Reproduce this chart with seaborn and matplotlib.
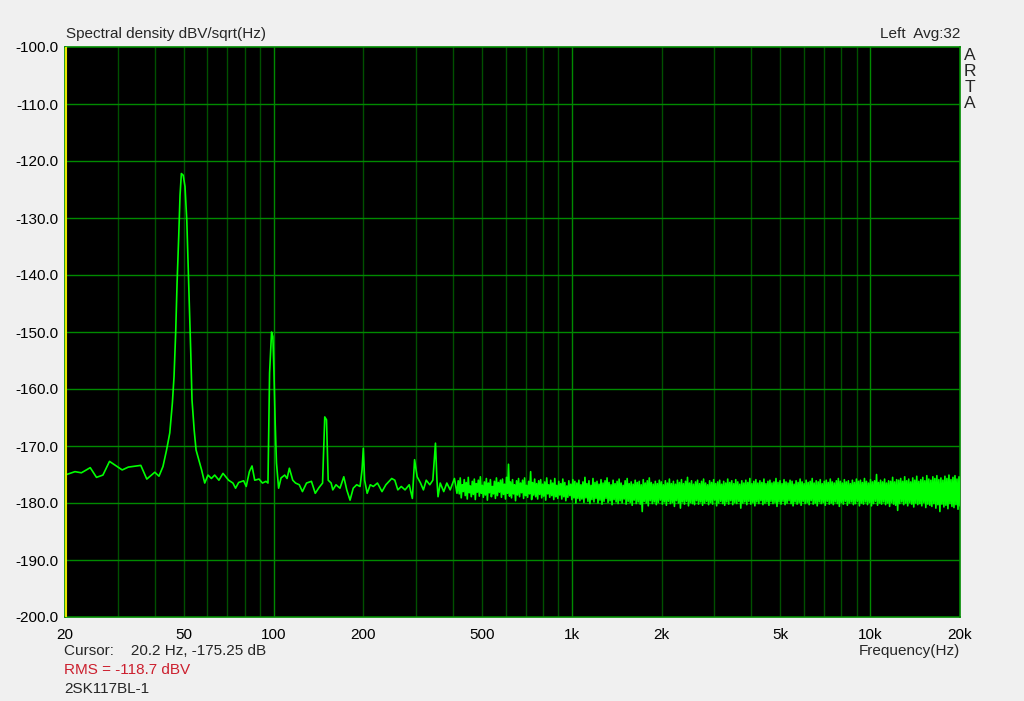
import numpy as np
import matplotlib
matplotlib.use("Agg")
import matplotlib.pyplot as plt
import seaborn as sns

# Espectro, parte baja (Hz, dBV/sqrt(Hz))
freq_baja = [20.0, 21.6, 22.7, 24.3, 25.5, 26.8, 28.2, 31.1, 32.6, 35.9, 37.6, 40.0,
             41.3, 42.6, 43.8, 44.9, 45.8, 46.4, 47.0, 47.5, 48.1, 48.6, 49.1, 49.8,
             50.5, 51.2, 51.8, 52.4, 52.8, 53.3, 54.2, 55.0, 56.0, 57.4, 58.8, 60.3,
             61.9, 63.5, 65.6, 67.7, 70.7, 73.1, 74.6, 76.4, 79.4, 81.0, 83.0, 84.7,
             86.5, 89.4, 91.8, 94.3, 95.8, 97.0, 98.5, 99.5, 100.3, 101.3, 102.3, 104.0,
             106.0, 109.0, 111.0, 113.0, 116.0, 118.5, 122.0, 125.0, 129.0, 134.0, 138.0, 142.0,
             146.0, 148.5, 150.5, 152.5, 156.0, 158.0, 162.0, 167.0, 172.0, 176.0, 180.5, 185.0,
             190.0, 195.0, 198.0, 200.0, 202.0, 206.0, 211.0, 216.0, 223.0, 231.0, 238.0, 249.0,
             255.0, 261.0, 268.0, 276.0, 285.0, 292.0, 297.0, 303.0, 311.0, 318.0, 325.0, 334.0,
             342.0, 349.0, 353.0, 356.0, 362.0, 372.0, 381.0, 391.0, 404.0, 412.0]
db_baja = [-175.1, -174.5, -174.7, -173.8, -175.5, -175.1, -172.7, -174.2, -173.7, -173.4, -175.8, -174.6,
           -175.3, -173.6, -170.7, -167.7, -162.5, -157.8, -150.0, -141.4, -133.3, -126.0, -122.2, -122.5,
           -124.5, -130.4, -139.1, -147.3, -153.7, -161.9, -167.2, -170.7, -172.2, -174.2, -176.5, -175.1,
           -175.7, -175.1, -176.0, -174.8, -176.0, -176.5, -177.4, -176.4, -176.1, -177.1, -174.5, -173.5,
           -176.0, -175.8, -176.5, -176.2, -176.5, -157.2, -150.0, -150.8, -156.7, -166.0, -173.0, -177.4,
           -175.6, -175.1, -175.7, -173.9, -176.0, -176.5, -176.8, -178.0, -176.5, -176.2, -178.3, -177.3,
           -176.5, -164.9, -165.4, -176.0, -176.5, -177.7, -176.8, -177.4, -175.4, -177.7, -179.5, -177.4,
           -176.8, -177.1, -174.2, -170.4, -176.0, -178.3, -176.8, -177.1, -176.5, -178.0, -176.8, -175.7,
           -176.0, -177.7, -177.1, -177.7, -176.8, -179.2, -172.4, -175.4, -176.5, -177.7, -176.0, -176.8,
           -176.0, -169.5, -176.0, -178.9, -176.5, -178.0, -176.5, -177.7, -175.7, -178.3]

# Suelo de ruido 416 Hz - 20 kHz: maximos y minimos alternos
ruido_alto = [
    -176.1, -175.6, -176.8, -175.9, -176.4, -175.5, -177.0, -176.2, -175.8, -176.6,
    -176.0, -175.4, -176.9, -176.3, -175.7, -176.5, -175.9, -177.1, -176.2, -175.6,
    -176.4, -176.0, -175.8, -176.7, -175.5, -173.2, -176.3, -175.9, -176.8, -176.1,
    -175.7, -176.5, -176.0, -175.6, -176.9, -176.2, -174.5, -176.4, -175.8, -176.6,
    -176.1, -175.9, -176.7, -176.3, -175.6, -176.8, -176.0, -176.5, -175.7, -176.9,
    -176.2, -176.6, -175.8, -176.4, -177.0, -176.1, -176.7, -175.9, -176.2, -176.5,
    -176.0, -176.8, -176.3, -175.5, -176.6, -176.1, -176.9, -175.7, -176.4, -176.2,
    -176.7, -175.9, -176.5, -176.1, -175.6, -176.4, -176.8, -176.0, -176.6, -176.2,
    -175.8, -176.5, -176.9, -176.1, -175.7, -176.6, -176.3, -176.7, -176.0, -176.4,
    -176.2, -176.8, -175.9, -176.5, -176.1, -175.6, -176.4, -176.7, -176.2, -176.6,
    -176.0, -176.3, -176.8, -176.1, -176.5, -175.8, -176.6, -176.2, -176.7, -176.0,
    -176.4, -175.9, -176.6, -176.2, -175.5, -176.5, -176.1, -176.7, -176.3, -176.0,
    -176.6, -176.2, -175.8, -176.5, -176.8, -176.1, -176.4, -175.9, -176.6, -176.3,
    -176.0, -176.7, -176.2, -176.5, -175.8, -176.4, -176.1, -176.6, -175.9, -176.3,
    -176.7, -176.1, -176.5, -176.0, -176.4, -175.7, -176.6, -176.2, -175.9, -176.5,
    -176.1, -176.4, -175.8, -176.6, -176.2, -176.0, -176.5, -176.3, -175.7, -176.4,
    -176.1, -176.6, -175.9, -176.3, -176.5, -176.0, -176.2, -176.7, -176.1, -176.4,
    -175.8, -176.3, -176.6, -176.0, -176.4, -176.2, -175.7, -176.5, -176.1, -176.3,
    -175.9, -176.6, -176.2, -176.0, -176.4, -175.8, -176.3, -176.5, -176.1, -175.7,
    -176.2, -176.5, -175.9, -176.3, -176.1, -176.6, -176.0, -176.4, -175.8, -176.2,
    -176.0, -176.4, -175.7, -176.2, -176.5, -175.9, -176.3, -176.1, -175.0, -176.4,
    -176.0, -176.3, -175.8, -176.5, -176.1, -176.2, -175.5, -176.3, -175.9, -176.0,
    -175.7, -176.2, -175.4, -176.1, -175.8, -176.3, -175.6, -176.0, -175.3, -176.2,
    -175.9, -175.5, -176.1, -175.2, -175.8, -176.0, -175.4, -175.7, -175.2, -175.9,
    -175.6, -176.0, -175.3, -175.7, -175.1, -175.9, -175.5, -175.2, -175.8, -175.4]
ruido_bajo = [
    -178.4, -179.1, -178.0, -178.7, -179.3, -178.2, -178.9, -178.5, -179.4, -178.1,
    -178.8, -178.3, -179.0, -178.6, -179.5, -178.2, -178.9, -178.4, -179.2, -178.7,
    -178.1, -179.0, -178.5, -179.3, -178.3, -178.8, -179.1, -178.4, -179.6, -178.6,
    -178.9, -178.2, -179.2, -178.7, -179.0, -178.4, -179.4, -178.6, -178.9, -179.3,
    -178.5, -179.1, -178.8, -179.5, -178.4, -179.0, -178.7, -179.4, -178.9, -179.2,
    -178.6, -179.3, -178.9, -179.6, -179.0, -178.7, -179.4, -179.1, -180.0, -179.2,
    -179.6, -179.3, -179.9, -179.1, -179.7, -180.1, -179.4, -179.8, -179.2, -180.0,
    -179.5, -180.2, -179.7, -179.2, -179.9, -179.6, -180.3, -179.4, -179.8, -180.1,
    -179.6, -180.0, -179.3, -180.2, -179.7, -179.9, -180.4, -179.5, -180.1, -179.8,
    -180.2, -181.5, -179.7, -180.0, -180.5, -179.6, -180.1, -179.8, -180.3, -179.9,
    -179.5, -180.2, -179.8, -180.4, -179.7, -180.1, -179.9, -180.6, -179.6, -180.0,
    -180.9, -179.8, -180.2, -179.7, -180.5, -179.9, -180.1, -180.3, -179.6, -180.2,
    -179.8, -180.4, -180.0, -179.7, -180.3, -179.9, -180.2, -179.5, -180.5, -180.0,
    -179.7, -180.1, -180.4, -179.8, -180.2, -179.6, -180.3, -179.9, -180.1, -179.7,
    -180.9, -180.0, -179.8, -180.3, -179.7, -180.2, -179.9, -180.5, -179.8, -180.1,
    -179.6, -180.3, -180.0, -179.8, -180.4, -179.7, -180.1, -179.9, -180.6, -179.8,
    -180.2, -179.7, -180.3, -180.0, -179.6, -180.1, -180.5, -179.8, -180.2, -179.9,
    -180.4, -179.7, -180.1, -179.9, -180.3, -179.6, -180.2, -180.0, -180.5, -179.8,
    -180.1, -179.9, -180.4, -179.7, -180.2, -180.0, -180.3, -179.8, -180.1, -180.6,
    -179.9, -180.2, -179.7, -180.4, -180.0, -179.8, -180.3, -180.1, -179.7, -180.5,
    -180.0, -180.2, -179.8, -180.3, -179.9, -180.5, -180.1, -179.7, -180.4, -180.0,
    -180.2, -179.8, -180.3, -180.0, -180.6, -179.9, -180.2, -180.4, -181.3, -180.1,
    -179.8, -180.3, -180.0, -180.5, -179.9, -180.2, -180.7, -180.0, -180.3, -180.1,
    -180.5, -179.9, -180.8, -180.2, -180.4, -180.6, -180.1, -180.9, -180.3, -181.5,
    -180.2, -180.7, -180.4, -181.0, -180.1, -180.6, -180.8, -180.3, -181.1, -180.5]

ticks_x = [20, 50, 100, 200, 500, 1000, 2000, 5000, 10000, 20000]
etiquetas_x = ["20", "50", "100", "200", "500", "1k", "2k", "5k", "10k", "20k"]
ticks_y = [-100, -110, -120, -130, -140, -150, -160, -170, -180, -190, -200]

# Frecuencias del suelo de ruido (rejilla de muestreo)
n_ruido = 2 * len(ruido_alto)
freq_ruido = np.geomspace(416, 20000, n_ruido)
db_ruido = np.column_stack([ruido_alto, ruido_bajo]).ravel()

freq = np.concatenate([freq_baja, freq_ruido])
db = np.concatenate([db_baja, db_ruido])

sns.set_style("white")
plt.rcParams['font.family'] = ['Liberation Sans', 'DejaVu Sans']

W, H = 1024, 701
fig = plt.figure(figsize=(W / 100, H / 100), dpi=100, facecolor='#f0f0f0')
ax = fig.add_axes([65 / W, (H - 617) / H, 895 / W, 570 / H])
ax.set_facecolor('black')

sns.lineplot(x=freq, y=db, ax=ax, color='#00ff00', linewidth=1.2,
             estimator=None, sort=False, zorder=3)

ax.set_xscale('log')
ax.set_xlim(20, 20000)
ax.set_ylim(-200, -100)

# Rejilla
menores = [f * d for d in (10, 100, 1000) for f in range(2, 10)]
for f in menores:
    if 20 < f < 20000:
        ax.axvline(f, color='#005000', linewidth=1.0, zorder=1)
for f in (100, 1000, 10000):
    ax.axvline(f, color='#008a00', linewidth=1.0, zorder=1)
for y in ticks_y[1:-1]:
    ax.axhline(y, color='#008a00', linewidth=1.0, zorder=1)

# Cursor
ax.axvline(20.2, color='#e8e800', linewidth=1.5, zorder=4)

for s in ax.spines.values():
    s.set_color('#008a00')
    s.set_linewidth(1.2)

ax.set_xticks(ticks_x)
ax.set_xticklabels(etiquetas_x)
ax.xaxis.set_minor_locator(matplotlib.ticker.NullLocator())
ax.set_yticks(ticks_y)
ax.set_yticklabels([f"{v:.1f}" for v in ticks_y])
ax.tick_params(axis='both', length=0, labelsize=11, colors='black')
ax.tick_params(axis='x', pad=8)
ax.tick_params(axis='y', pad=5)
ax.set_xlabel('')
ax.set_ylabel('')


def px(x, y):
    return x / W, 1 - y / H


fig.text(*px(66, 34), "Spectral density dBV/sqrt(Hz)", fontsize=11, va='center', ha='left')
fig.text(*px(960, 34), "Left  Avg:32", fontsize=11, va='center', ha='right')
for i, letra in enumerate("ARTA"):
    fig.text(*px(970, 56 + i * 16), letra, fontsize=12.5, va='center', ha='center')
fig.text(*px(64, 651), "Cursor:    20.2 Hz, -175.25 dB", fontsize=11, va='center', ha='left')
fig.text(*px(64, 670), "RMS = -118.7 dBV", fontsize=11, va='center', ha='left', color='#cc1f2e')
fig.text(*px(64, 689), "2SK117BL-1", fontsize=11, va='center', ha='left')
fig.text(*px(960, 651), "Frequency(Hz)", fontsize=11, va='center', ha='right')

fig.savefig("out.png", dpi=100, facecolor=fig.get_facecolor())
